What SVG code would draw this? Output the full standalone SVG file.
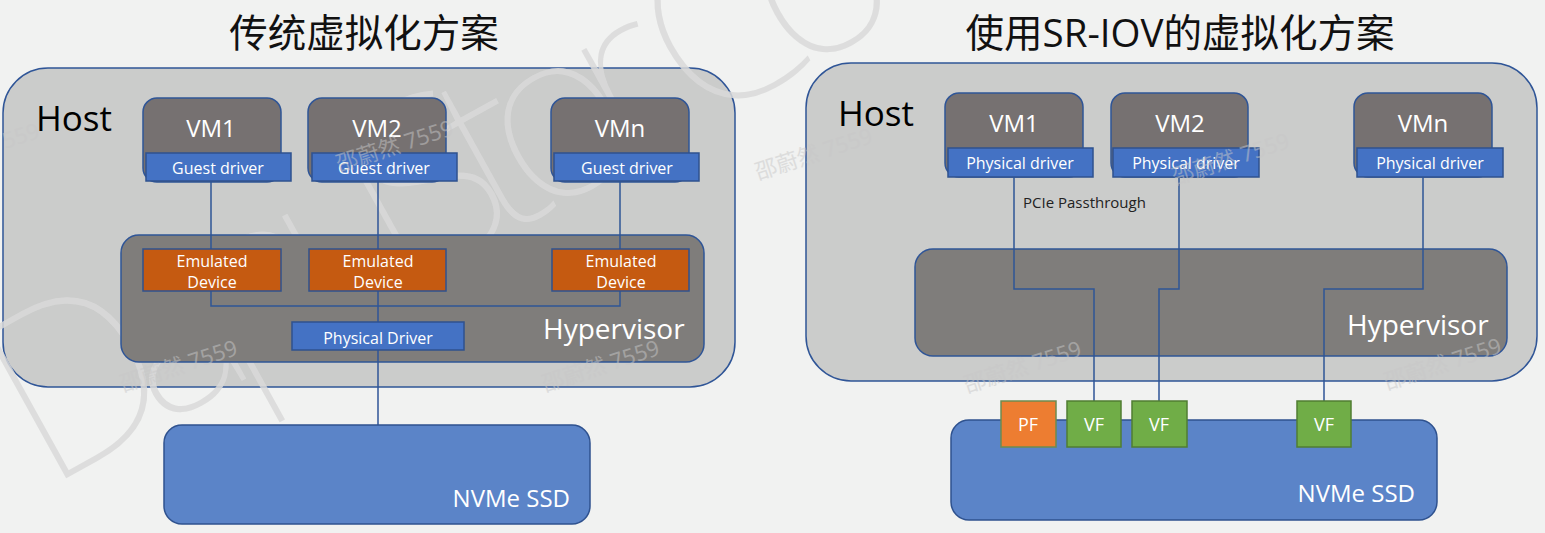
<svg xmlns="http://www.w3.org/2000/svg" width="1545" height="533" viewBox="0 0 1545 533">
<style>
.t{font-family:"Open Sans","Noto Sans","Noto Sans CJK SC",sans-serif}
.title{font-family:"Noto Sans CJK SC","Open Sans",sans-serif;font-size:38.5px;fill:#111}
.host{fill:#cbcccb;stroke:#2f5597;stroke-width:1.5}
.vm{fill:#767171;stroke:#2f5597;stroke-width:1.5}
.hyp{fill:#7f7d7b;stroke:#2f5597;stroke-width:1.5}
.drv{fill:#4472c4;stroke:#2f528f;stroke-width:1.5}
.emu{fill:#c55a11;stroke:#2f528f;stroke-width:1.5}
.ssd{fill:#5b84c8;stroke:#2f528f;stroke-width:1.5}
.vf{fill:#70ad47;stroke:#507e32;stroke-width:1.5}
.pf{fill:#ed7d31;stroke:#6d8b4f;stroke-width:1.5}
.w{fill:#fff}
.big{font-size:35px;fill:#000}
.vmt{font-size:24px;text-anchor:middle}
.sm{font-size:16px;text-anchor:middle}
.hv{font-size:28px}
.ssdt{font-size:24px;text-anchor:end}
.ft{font-size:18px;text-anchor:middle}
.conn{fill:none;stroke:#2f5597;stroke-width:1.5}
.wm{font-family:"Noto Sans","Noto Sans CJK SC",sans-serif;fill:#c8c8c8;opacity:0.5;font-size:22px}
.wmbig{font-family:"Noto Sans",sans-serif;font-weight:100;font-size:235px;fill:#dadada;opacity:0.85}
</style>
<rect width="1545" height="533" fill="#f1f2f1"/>

<text class="title" x="364" y="47" text-anchor="middle">传统虚拟化方案</text>
<text class="title" x="1180" y="47" text-anchor="middle">使用<tspan font-family="Open Sans,sans-serif">SR-IOV</tspan>的虚拟化方案</text>

<g id="host-left"><rect class="host" x="3" y="68" width="732" height="319" rx="45"/><text class="t big" x="36" y="131">Host</text></g>
<g id="host-right"><rect class="host" x="806" y="63" width="731" height="318" rx="45"/><text class="t big" x="838" y="126">Host</text></g>

<g id="watermark-big">
<text class="wmbig" transform="translate(45,490) rotate(-29)" textLength="990" lengthAdjust="spacing">DapuStor Co</text>
</g>

<!-- LEFT -->
<g id="vm1-left"><rect class="vm" x="143" y="98" width="138" height="84" rx="14"/><text class="t w vmt" x="211" y="137">VM1</text></g>
<g id="vm2-left"><rect class="vm" x="308" y="98" width="138" height="84" rx="14"/><text class="t w vmt" x="377" y="137">VM2</text></g>
<g id="vmn-left"><rect class="vm" x="551" y="98" width="138" height="84" rx="14"/><text class="t w vmt" x="620" y="137">VMn</text></g>
<g id="gd1"><rect class="drv" x="146" y="153" width="145" height="28"/><text class="t w sm" x="218" y="174">Guest driver</text></g>
<g id="gd2"><rect class="drv" x="312" y="153" width="145" height="28"/><text class="t w sm" x="384" y="174">Guest driver</text></g>
<g id="gdn"><rect class="drv" x="554" y="153" width="145" height="28"/><text class="t w sm" x="627" y="174">Guest driver</text></g>
<g id="hyp-left"><rect class="hyp" x="121" y="235" width="583" height="127" rx="18"/><text class="t w hv" x="543" y="339">Hypervisor</text></g>

<!-- RIGHT -->
<g id="vm1-right"><rect class="vm" x="945" y="93" width="138" height="84" rx="14"/><text class="t w vmt" x="1014" y="132">VM1</text></g>
<g id="vm2-right"><rect class="vm" x="1111" y="93" width="137" height="84" rx="14"/><text class="t w vmt" x="1180" y="132">VM2</text></g>
<g id="vmn-right"><rect class="vm" x="1354" y="93" width="138" height="84" rx="14"/><text class="t w vmt" x="1423" y="132">VMn</text></g>
<g id="pd1"><rect class="drv" x="948" y="148" width="145" height="29"/><text class="t w sm" x="1020" y="169">Physical driver</text></g>
<g id="pd2"><rect class="drv" x="1113" y="148" width="146" height="29"/><text class="t w sm" x="1186" y="169">Physical driver</text></g>
<g id="pdn"><rect class="drv" x="1357" y="148" width="146" height="29"/><text class="t w sm" x="1430" y="169">Physical driver</text></g>
<text class="t" x="1023" y="208" font-size="15" fill="#222">PCIe Passthrough</text>
<g id="hyp-right"><rect class="hyp" x="915" y="249" width="592" height="107" rx="18"/><text class="t w hv" x="1347" y="335">Hypervisor</text></g>

<g id="connectors">
<polyline class="conn" points="211,181 211,306 620,306 620,181"/>
<line class="conn" x1="378" y1="181" x2="378" y2="425"/>
<polyline class="conn" points="1014,177 1014,289 1094,289 1094,401"/>
<polyline class="conn" points="1179,177 1179,289 1159,289 1159,401"/>
<polyline class="conn" points="1423,177 1423,289 1324,289 1324,401"/>
</g>

<g id="emu1"><rect class="emu" x="143" y="249" width="138" height="42"/><text class="t w sm" x="212" y="267">Emulated</text><text class="t w sm" x="212" y="288">Device</text></g>
<g id="emu2"><rect class="emu" x="309" y="249" width="137" height="42"/><text class="t w sm" x="378" y="267">Emulated</text><text class="t w sm" x="378" y="288">Device</text></g>
<g id="emun"><rect class="emu" x="552" y="249" width="137" height="42"/><text class="t w sm" x="621" y="267">Emulated</text><text class="t w sm" x="621" y="288">Device</text></g>
<g id="pdrv-left"><rect class="drv" x="292" y="322" width="172" height="28"/><text class="t w sm" x="378" y="344" font-size="17">Physical Driver</text></g>
<g id="ssd-left"><rect class="ssd" x="164" y="425" width="426" height="99" rx="18"/><text class="t w ssdt" x="570" y="507">NVMe SSD</text></g>

<g id="ssd-right"><rect class="ssd" x="951" y="420" width="486" height="100" rx="18"/><text class="t w ssdt" x="1415" y="502">NVMe SSD</text></g>
<g id="pf"><rect class="pf" x="1001" y="401" width="55" height="46"/><text class="t w ft" x="1028" y="431">PF</text></g>
<g id="vf1"><rect class="vf" x="1067" y="401" width="54" height="46"/><text class="t w ft" x="1094" y="431">VF</text></g>
<g id="vf2"><rect class="vf" x="1132" y="401" width="55" height="46"/><text class="t w ft" x="1159" y="431">VF</text></g>
<g id="vf3"><rect class="vf" x="1297" y="401" width="54" height="46"/><text class="t w ft" x="1324" y="431">VF</text></g>

<g id="watermarks">
<text class="wm" transform="translate(-75,175) rotate(-18)">邵蔚然 7559</text>
<text class="wm" transform="translate(339,172) rotate(-18)">邵蔚然 7559</text>
<text class="wm" transform="translate(123,392) rotate(-18)">邵蔚然 7559</text>
<text class="wm" transform="translate(545,392) rotate(-18)">邵蔚然 7559</text>
<text class="wm" transform="translate(758,180) rotate(-18)">邵蔚然 7559</text>
<text class="wm" transform="translate(1175,185) rotate(-18)">邵蔚然 7559</text>
<text class="wm" transform="translate(967,393) rotate(-18)">邵蔚然 7559</text>
<text class="wm" transform="translate(1387,390) rotate(-18)">邵蔚然 7559</text>
</g>
</svg>
